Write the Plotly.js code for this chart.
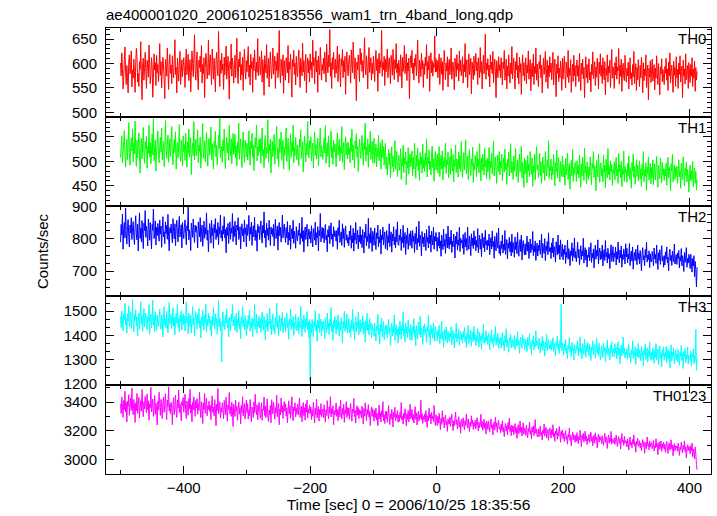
<!DOCTYPE html>
<html>
<head>
<meta charset="utf-8">
<script src="https://cdn.plot.ly/plotly-3.0.1.min.js"></script>
<style>html,body{margin:0;padding:0;background:#fff;}#chart{width:717px;height:516px;}</style>
</head>
<body>
<div id="chart"></div>
<script>
// Light curve: 1-s time bins (sec from 2006/10/25 18:35:56), starting at -500
const tStart = -500;
const binSize = 1;

const panelNames = ["TH0", "TH1", "TH2", "TH3", "TH0123"];
const chartTitle = "ae400001020_20061025183556_wam1_trn_4band_long.qdp";
const xTitle = "Time [sec] 0 = 2006/10/25 18:35:56";
const yTitle = "Counts/sec";

const th0 = [
601,575,622,590,548,566,612,634,583,557,596,571,540,605,618,579,593,626,552,587,
570,609,584,541,599,631,615,562,580,553,604,588,645,572,526,597,611,566,590,623,
584,549,607,593,572,638,601,559,578,612,596,531,569,620,587,602,555,617,581,598,
563,589,641,576,604,550,585,613,593,567,528,609,596,574,632,588,547,603,619,580,
597,559,616,583,571,606,649,578,592,540,611,586,564,599,625,557,581,608,573,594,
612,586,551,603,630,577,596,619,565,589,608,542,581,626,600,573,610,659,588,566,
599,624,571,546,607,592,615,583,637,560,598,579,612,530,590,621,604,569,585,648,
576,603,618,589,557,630,597,568,611,584,542,606,623,591,575,666,594,553,607,580,
621,586,599,547,613,577,602,636,568,592,615,583,527,604,589,640,574,611,596,560,
588,617,571,604,652,582,559,609,593,624,566,598,577,613,545,601,630,587,568,606,
583,609,635,572,597,556,619,590,604,541,612,585,628,596,567,603,582,651,575,600,
614,577,595,626,562,608,589,535,616,600,581,639,570,593,611,552,598,624,587,569,
601,632,578,594,615,549,605,586,622,571,597,668,583,560,609,592,575,618,539,606,
590,566,612,597,581,637,560,603,588,619,574,531,608,594,627,578,601,556,615,586,
573,604,628,589,551,611,596,575,642,583,606,565,598,619,540,593,612,581,607,562,
620,587,603,571,648,595,612,558,599,626,583,607,541,615,592,577,633,604,566,598,
586,611,579,624,597,562,640,605,581,617,593,670,574,602,549,612,588,623,596,571,
609,580,598,636,563,601,619,587,552,610,595,629,571,606,583,615,537,598,624,590,
575,603,617,592,560,628,599,581,644,607,569,612,590,524,603,587,618,596,563,631,
598,622,584,606,571,611,653,590,577,616,599,548,605,633,582,594,612,566,601,579,
615,591,563,604,627,586,610,543,598,621,580,606,592,668,574,603,587,615,555,609,
583,606,630,571,598,612,589,559,617,601,576,629,594,567,608,590,641,581,600,562,
607,589,574,618,596,550,613,584,603,637,579,598,620,565,602,585,611,528,596,616,
592,627,580,601,566,610,594,619,575,603,648,586,560,607,597,573,621,589,606,551,
600,578,613,595,639,569,604,587,616,543,598,622,581,606,574,601,592,657,583,610,
583,606,571,598,620,557,593,612,578,604,545,589,627,596,567,601,585,614,552,598,
609,577,594,632,568,590,603,581,546,611,596,573,618,588,600,564,626,584,607,575,
592,614,560,598,583,641,572,599,608,551,586,620,577,595,611,538,603,589,567,615,
576,598,621,585,603,557,612,590,571,633,582,604,548,596,617,579,593,660,568,601,
587,610,574,597,552,618,588,603,579,625,561,594,609,583,530,606,592,571,614,585,
598,571,612,584,556,603,590,627,566,581,609,548,595,574,618,586,560,601,579,635,
569,593,611,578,548,604,587,622,571,596,558,613,582,600,537,591,618,575,602,565,
586,612,559,597,581,626,568,590,608,544,583,601,573,619,557,594,580,632,566,599,
576,553,604,589,618,571,597,540,585,611,578,594,625,562,588,607,549,596,573,614,
582,601,567,593,623,556,588,609,574,532,599,580,616,563,591,571,605,587,545,611,
568,594,615,579,550,603,586,572,627,561,590,576,608,541,582,599,563,617,575,596,
553,588,607,574,596,563,621,580,545,601,578,609,569,592,530,585,614,571,598,560,
591,610,566,583,542,598,577,624,569,587,604,555,593,572,611,586,548,603,579,620,
574,597,559,612,585,567,604,536,590,576,618,562,595,581,607,551,588,629,570,593,
583,549,602,577,614,568,593,585,631,558,597,574,609,543,586,601,572,565,617,589,
562,590,575,603,548,586,612,569,581,556,598,573,625,559,584,600,545,592,567,608,
578,553,596,571,613,587,540,602,565,589,575,618,551,583,597,526,590,572,606,561,
585,609,564,577,598,546,591,570,616,582,557,600,574,536,593,579,610,563,588,571,
557,594,580,611,566,589,545,603,575,622,560,583,597,568,541,605,576,592,553,614,
571,588,549,601,578,616,562,584,595,530,607,574,589,558,620,567,583,596,549,602,
580,561,598,574,612,553,589,570,605,543,592,566,584
];

const th1 = [
508,531,552,497,519,540,563,511,488,527,545,503,534,579,516,492,529,548,521,566,
499,537,515,582,524,490,543,507,531,558,512,476,528,547,505,533,569,518,496,540,
525,551,486,530,516,574,509,538,495,521,556,513,587,501,527,544,480,519,535,562,
514,497,532,549,519,568,503,526,541,489,517,583,528,506,534,553,498,522,546,510,
536,571,512,493,529,545,518,560,484,523,539,507,531,575,515,500,543,526,491,552,
519,534,502,557,525,488,540,516,566,509,531,548,473,524,537,512,581,503,528,545,
511,528,564,497,533,520,549,486,515,538,577,506,523,542,499,530,559,517,490,535,
547,512,526,570,503,536,519,484,541,528,561,509,532,493,518,553,526,589,507,522,
530,498,544,521,566,510,485,532,549,517,538,502,573,526,511,546,495,529,557,514,
522,555,507,531,491,539,518,578,504,527,546,513,487,535,560,520,498,543,529,509,
537,503,524,562,515,492,541,526,557,508,533,481,519,548,527,574,501,530,512,545,
520,547,496,532,568,511,524,487,539,553,506,528,517,585,498,534,521,545,476,513,
541,509,530,555,494,522,538,571,505,527,489,546,518,532,560,502,525,543,484,529,
512,536,568,499,524,547,515,482,531,556,508,539,520,573,497,528,511,549,526,503,
533,517,491,545,528,564,506,521,540,478,519,552,530,499,536,513,581,524,507,542,
526,550,501,519,537,486,529,560,512,534,505,523,547,491,517,540,568,509,532,515,
504,531,548,517,573,496,525,538,510,552,488,520,535,562,507,529,494,543,519,536,
521,489,536,558,512,527,545,501,530,516,571,498,524,539,483,528,550,513,537,505,
539,514,527,497,548,520,566,503,533,518,487,542,525,556,509,531,479,516,545,522,
506,530,553,518,492,537,524,578,500,529,513,546,488,534,519,561,504,527,541,497,
523,547,496,518,535,489,527,509,553,501,516,538,484,521,544,507,530,492,515,537,
485,509,472,501,524,493,517,466,503,530,488,511,478,497,542,483,506,520,469,499,
512,481,497,526,463,505,491,533,477,508,495,519,452,500,486,528,474,503,515,489,
496,521,470,508,484,537,499,465,512,490,527,481,504,461,518,493,509,476,535,486,
502,479,517,491,546,468,508,495,523,483,500,472,513,531,487,505,459,498,520,482,
497,515,476,504,530,469,491,512,484,521,462,499,508,488,537,475,503,493,519,466,
488,509,473,526,495,480,514,458,502,490,533,477,505,496,468,519,485,511,479,540,
501,467,494,518,482,507,543,475,492,510,463,499,524,486,471,505,490,529,457,497,
483,512,497,469,520,488,504,476,536,493,460,507,481,515,495,472,526,489,502,465,
506,478,494,528,463,500,487,517,474,498,541,470,491,509,483,455,512,496,479,520,
472,499,486,515,461,492,507,478,525,483,496,453,504,488,519,470,491,536,476,500,
489,463,511,480,497,526,469,485,503,457,493,515,478,490,531,466,498,484,447,507,
475,502,488,456,512,481,494,468,520,486,473,507,449,491,479,515,462,497,530,483,
493,467,484,516,471,499,455,488,509,476,492,461,520,482,470,503,487,542,465,490,
481,505,462,489,473,514,486,450,497,479,523,466,491,508,475,458,500,484,469,511,
468,493,480,451,506,472,489,517,463,485,496,443,478,502,470,524,459,487,475,498,
486,459,501,474,492,466,512,481,447,495,470,508,483,461,527,476,490,454,499,472,
463,488,471,509,479,452,496,485,520,467,491,475,440,502,480,468,515,484,457,493,
497,470,485,458,513,477,492,446,504,481,466,526,473,489,462,501,478,494,451,483,
475,499,462,488,508,470,483,455,516,479,493,466,500,448,485,472,521,459,490,477,
482,457,496,470,511,463,487,474,445,498,480,515,467,490,453,478,503,469,492,460,
476,501,464,485,449,494,471,520,458,483,469,497,441,488,475,509,462,480,496,454,
488,467,503,452,479,495,462,484,510,470,447,492,476,465,506,481,456,498,472,485,
461,484,470,497,451,479,508,466,489,473,440,495,480,514,458,476,492,463,487,469,
490,455,477,503,468,481,445,496,474,462,509,478,450,486,471,499,458,483,466,437,
475,492,459,481,463,500,448,472,486,455,479,441,463
];

const th2 = [
790,845,812,877,768,829,851,803,896,822,784,838,860,807,775,843,819,866,798,831,
854,809,783,838,872,816,797,846,763,825,881,802,834,791,857,814,770,849,826,888,
805,839,821,778,862,833,796,851,812,769,845,827,893,801,818,856,781,836,810,848,
827,793,859,815,840,774,831,869,806,822,785,853,817,842,799,876,808,763,835,819,
846,811,788,863,824,800,847,779,832,858,814,791,837,870,806,823,844,772,851,815,
801,836,859,817,782,841,826,899,797,828,812,764,849,831,805,862,818,789,843,822,
839,814,772,853,829,806,866,791,824,843,777,818,855,802,835,814,881,796,827,760,
813,848,825,787,858,810,834,771,845,819,863,798,829,806,851,782,837,815,874,803,
826,793,841,815,869,803,829,757,836,811,848,786,822,853,799,834,818,879,792,840,
807,855,820,781,843,827,866,798,812,838,769,825,847,810,832,791,859,816,834,776,
845,811,829,873,794,836,815,852,780,823,841,806,867,795,828,813,762,845,820,839,
798,830,856,812,787,842,818,884,803,826,774,849,811,833,796,858,822,780,837,815,
832,807,845,778,823,861,801,819,840,765,828,851,809,836,790,817,874,803,829,846,
812,789,835,803,854,781,820,796,843,768,815,832,801,858,786,824,809,771,838,805,
794,827,810,849,783,818,802,867,792,826,759,813,837,798,820,845,777,810,831,800,
823,787,841,806,775,832,814,796,852,781,819,804,838,763,827,810,879,791,815,836,
802,834,788,819,845,797,812,760,829,806,841,785,823,850,799,815,776,838,807,826,
817,793,826,768,835,811,858,789,805,822,780,847,801,832,774,819,840,796,813,787,
806,779,824,797,842,771,810,788,833,762,818,796,851,784,803,827,769,812,791,838,
785,812,773,829,798,756,821,803,846,779,808,792,864,770,816,787,835,799,761,824,
811,780,834,795,767,819,801,843,776,806,788,829,753,812,798,837,781,805,822,770,
798,826,765,810,789,847,776,803,822,759,815,794,838,781,806,772,829,791,853,784,
780,812,795,831,764,806,788,842,773,799,820,752,811,786,834,768,797,816,779,825,
803,771,826,792,809,758,817,784,838,766,801,789,855,777,812,794,747,823,786,806,
775,818,797,764,829,790,805,772,841,786,812,759,824,799,781,836,768,808,793,820,
788,762,805,779,821,771,794,746,812,785,767,830,777,798,755,816,789,772,840,781,
769,806,783,827,758,793,776,815,790,741,808,784,822,765,797,780,836,761,802,788,
796,771,814,752,789,820,775,801,764,837,783,768,809,791,748,816,779,803,770,825,
782,808,763,795,774,832,757,790,811,768,799,745,818,786,773,805,760,827,781,794,
766,797,779,815,751,786,804,769,825,776,792,740,808,783,763,819,787,771,834,755,
781,749,793,770,812,756,784,765,826,752,779,798,738,787,771,805,760,791,747,815,
758,789,772,743,806,767,791,754,820,775,746,783,798,761,812,735,778,795,769,750,
785,751,774,809,762,790,739,771,800,757,783,766,823,748,779,760,794,733,770,787,
747,780,763,796,752,773,815,741,786,768,755,801,733,778,764,792,751,819,760,774,
772,739,788,757,803,744,776,762,728,791,769,750,812,755,781,736,797,764,745,783,
735,768,752,781,724,759,743,796,737,770,754,717,763,749,788,731,772,745,803,740,
761,729,755,790,742,768,720,751,779,736,763,747,802,725,758,773,734,766,713,750,
743,774,732,759,788,727,755,741,769,710,753,781,737,764,746,797,722,757,771,735,
762,738,781,716,750,767,733,795,744,758,725,771,739,754,708,763,782,730,748,776,
729,756,743,774,719,760,737,790,748,726,765,741,778,712,751,736,769,754,722,785,
744,771,726,753,738,786,717,749,762,731,775,706,745,758,733,768,741,720,781,737,
756,722,764,740,701,752,773,735,748,717,767,742,790,728,750,736,763,711,754,729,
730,761,745,716,772,738,752,724,781,743,705,757,734,766,721,748,779,732,745,712,
748,719,760,737,775,726,743,701,755,768,733,749,718,762,741,729,784,722,738,751,
721,756,739,764,710,745,731,770,716,748,735,699,758,727,744,773,712,739,725,752,
740,708,752,725,697,739,716,748,683,730,704,651,712
];

const th3 = [
1478,1432,1501,1456,1419,1487,1465,1532,1443,1472,1409,1490,1458,1521,1437,1475,1496,1428,1463,1548,
1451,1414,1485,1467,1506,1439,1477,1398,1460,1493,1425,1470,1539,1448,1482,1417,1456,1511,1435,1469,
1492,1446,1423,1478,1458,1527,1404,1466,1488,1431,1461,1545,1442,1479,1415,1497,1455,1420,1483,1450,
1436,1471,1509,1447,1426,1485,1462,1393,1476,1518,1441,1468,1430,1499,1453,1411,1474,1536,1445,1466,
1487,1427,1458,1514,1438,1476,1403,1463,1491,1449,1528,1432,1470,1416,1482,1457,1502,1422,1465,1489,
1444,1480,1418,1468,1537,1451,1475,1406,1492,1461,1435,1484,1410,1456,1519,1443,1472,1397,1460,1499,
1468,1426,1487,1449,1511,1433,1462,1389,1476,1441,1503,1457,1422,1483,1450,1529,1415,1466,1438,1491,
1452,1480,1419,1463,1396,1478,1440,1515,1458,1427,1489,1445,1470,1405,1461,1543,1434,1472,1418,1457,
1290,1466,1497,1436,1459,1424,1484,1451,1510,1430,1469,1393,1474,1448,1421,1486,1457,1527,1439,1462,
1477,1420,1455,1491,1412,1465,1441,1503,1428,1460,1386,1475,1449,1518,1435,1467,1423,1482,1453,1400,
1461,1428,1483,1444,1505,1417,1456,1433,1472,1394,1466,1439,1527,1425,1450,1488,1408,1458,1436,1479,
1430,1469,1412,1454,1497,1440,1421,1478,1451,1380,1463,1434,1490,1416,1458,1445,1512,1427,1466,1403,
1456,1488,1420,1443,1405,1474,1438,1533,1429,1460,1398,1482,1447,1418,1471,1439,1495,1411,1452,1436,
1473,1415,1450,1492,1431,1455,1384,1467,1442,1509,1423,1461,1437,1478,1400,1453,1426,1487,1446,1419,
1441,1476,1407,1459,1432,1520,1448,1395,1464,1427,1483,1452,1413,1469,1438,1498,1422,1457,1389,1466,
1212,1451,1409,1466,1428,1394,1457,1436,1503,1418,1447,1375,1462,1430,1489,1412,1440,1467,1398,1455,
1421,1459,1434,1386,1472,1443,1411,1492,1427,1450,1403,1468,1437,1515,1415,1446,1379,1461,1432,1478,
1448,1406,1463,1425,1484,1437,1397,1455,1419,1473,1442,1368,1458,1431,1500,1416,1452,1426,1487,1409,
1437,1470,1412,1445,1391,1462,1428,1508,1420,1454,1383,1441,1477,1413,1456,1433,1496,1402,1439,1465,
1414,1449,1430,1481,1405,1457,1436,1372,1460,1424,1491,1418,1446,1401,1470,1427,1452,1389,1444,1423,
1428,1396,1451,1412,1376,1439,1421,1487,1403,1430,1364,1447,1415,1471,1393,1425,1458,1382,1419,1440,
1405,1443,1389,1426,1467,1410,1432,1358,1421,1452,1398,1436,1410,1484,1379,1417,1444,1401,1426,1368,
1433,1402,1458,1415,1384,1440,1419,1496,1397,1427,1372,1451,1408,1435,1390,1463,1412,1428,1381,1446,
1418,1380,1437,1409,1469,1395,1424,1356,1441,1413,1386,1455,1420,1403,1478,1392,1431,1415,1362,1439,
1400,1448,1411,1425,1371,1434,1417,1482,1394,1422,1360,1443,1406,1429,1387,1452,1414,1376,1436,1405,
1412,1377,1423,1398,1441,1366,1407,1389,1459,1383,1415,1350,1403,1426,1378,1435,1395,1369,1418,1388,
1375,1410,1392,1436,1361,1399,1420,1383,1347,1408,1389,1450,1372,1404,1386,1427,1358,1397,1416,1381,
1404,1368,1415,1391,1432,1373,1396,1349,1410,1385,1441,1366,1400,1379,1421,1355,1393,1412,1374,1437,
1381,1405,1358,1394,1373,1428,1387,1352,1413,1376,1399,1342,1408,1383,1447,1367,1390,1371,1419,1379,
1396,1362,1410,1380,1341,1399,1374,1423,1366,1389,1351,1404,1378,1437,1359,1392,1370,1409,1345,1386,
1365,1393,1347,1381,1412,1359,1376,1336,1398,1370,1427,1352,1384,1364,1330,1391,1372,1405,1348,1379,
1382,1351,1374,1399,1340,1367,1388,1355,1415,1361,1379,1326,1371,1393,1357,1346,1403,1368,1385,1339,
1350,1384,1362,1333,1392,1357,1376,1407,1345,1369,1321,1381,1363,1398,1340,1372,1354,1419,1358,1377,
1371,1342,1389,1355,1327,1368,1351,1396,1338,1377,1360,1314,1373,1349,1404,1336,1365,1383,1343,1359,
1345,1378,1339,1360,1390,1333,1367,1348,1315,1374,1356,1396,1341,1363,1325,1380,1350,1528,1337,1369,
1352,1318,1364,1337,1382,1326,1349,1305,1360,1343,1390,1331,1355,1312,1370,1338,1347,1298,1361,1335,
1324,1359,1341,1378,1316,1350,1333,1394,1327,1345,1303,1366,1339,1321,1384,1346,1310,1357,1332,1371,
1348,1315,1362,1330,1296,1352,1338,1377,1320,1343,1363,1306,1340,1389,1325,1353,1316,1368,1334,1300,
1321,1357,1339,1308,1369,1332,1350,1290,1344,1326,1381,1317,1348,1335,1299,1360,1328,1374,1311,1343,
1345,1312,1366,1328,1351,1302,1338,1374,1320,1347,1283,1340,1359,1315,1336,1393,1323,1349,1306,1331,
1318,1346,1301,1333,1362,1309,1327,1288,1340,1321,1378,1304,1335,1316,1353,1280,1329,1345,1312,1367,
1306,1339,1322,1295,1356,1315,1332,1273,1341,1318,1363,1300,1328,1349,1290,1337,1311,1372,1319,1296,
1332,1301,1348,1316,1285,1339,1309,1366,1298,1325,1344,1279,1320,1357,1304,1329,1270,1340,1313,1352,
1297,1327,1310,1354,1288,1321,1343,1302,1335,1266,1316,1361,1293,1330,1312,1347,1282,1319,1338,1300,
1326,1290,1341,1307,1277,1330,1315,1358,1296,1322,1263,1334,1311,1346,1286,1320,1303,1352,1281,1317,
1301,1299,1336,1274,1322,1310,1345,1283,1318,1293,1425,1256,1305
];

const th0123 = [
3388,3321,3436,3365,3294,3412,3347,3475,3330,3399,3262,3405,3370,3451,3308,3381,3427,3343,3497,3356,
3312,3418,3379,3258,3395,3341,3460,3322,3386,3433,3289,3364,3410,3337,3487,3372,3299,3402,3353,3440,
3379,3327,3457,3346,3409,3274,3388,3361,3503,3332,3373,3421,3300,3368,3445,3315,3392,3352,3241,3406,
3345,3468,3384,3307,3419,3362,3285,3396,3435,3329,3377,3458,3350,3279,3414,3369,3506,3337,3390,3320,
3398,3356,3243,3383,3431,3313,3372,3449,3344,3293,3415,3359,3482,3327,3389,3353,3270,3405,3375,3432,
3330,3387,3455,3340,3286,3408,3363,3308,3426,3354,3490,3323,3381,3263,3399,3346,3437,3369,3301,3412,
3358,3424,3316,3389,3342,3468,3353,3291,3403,3372,3251,3396,3347,3459,3322,3381,3428,3305,3374,3349,
3407,3336,3376,3278,3390,3443,3328,3365,3303,3418,3355,3236,3385,3342,3494,3319,3369,3402,3290,3361,
3329,3395,3350,3285,3412,3358,3312,3434,3337,3267,3381,3349,3467,3319,3368,3300,3400,3343,3231,3385,
3352,3300,3415,3338,3369,3274,3346,3401,3317,3360,3249,3378,3327,3437,3304,3355,3389,3282,3339,3413,
3327,3389,3282,3342,3306,3418,3321,3265,3366,3340,3293,3401,3326,3454,3359,3313,3382,3276,3345,3398,
3358,3288,3325,3395,3273,3351,3343,3435,3306,3372,3292,3334,3423,3300,3265,3345,3311,3377,3257,3416,
3369,3318,3401,3337,3281,3362,3325,3448,3297,3356,3390,3243,3351,3312,3428,3329,3374,3286,3363,3404,
3336,3389,3302,3360,3255,3344,3409,3318,3374,3287,3352,3437,3325,3271,3366,3341,3395,3298,3357,3320,
3385,3311,3352,3429,3293,3340,3372,3264,3347,3396,3306,3361,3275,3388,3330,3414,3289,3353,3325,3378,
3318,3366,3279,3345,3302,3398,3324,3255,3357,3311,3420,3290,3338,3371,3268,3349,3313,3389,3296,3335,
3352,3290,3381,3319,3261,3346,3306,3410,3330,3283,3367,3322,3438,3297,3355,3318,3375,3243,3341,3309,
3327,3394,3301,3348,3272,3336,3369,3297,3414,3325,3284,3357,3312,3386,3259,3344,3320,3403,3293,3362,
3306,3359,3280,3338,3390,3315,3267,3352,3327,3426,3299,3343,3255,3331,3374,3309,3362,3285,3347,3317,
3340,3289,3372,3321,3247,3356,3303,3395,3328,3272,3349,3314,3383,3294,3336,3237,3325,3367,3301,3354,
3317,3268,3345,3290,3358,3275,3321,3236,3308,3379,3283,3326,3262,3341,3299,3403,3271,3312,3251,3334,
3285,3336,3259,3309,3377,3292,3244,3318,3281,3350,3302,3227,3330,3296,3364,3270,3315,3289,3341,3260,
3311,3266,3328,3290,3397,3276,3305,3248,3323,3286,3354,3301,3235,3319,3279,3342,3262,3299,3385,3283,
3296,3349,3273,3314,3255,3307,3368,3280,3325,3241,3298,3336,3267,3310,3288,3413,3277,3320,3252,3301,
3279,3318,3262,3341,3294,3225,3305,3270,3357,3289,3316,3249,3328,3283,3302,3265,3376,3291,3237,3312,
3280,3238,3301,3254,3322,3271,3209,3287,3246,3340,3262,3293,3221,3275,3310,3243,3268,3197,3284,3256,
3247,3296,3232,3274,3315,3251,3202,3269,3237,3286,3330,3245,3278,3214,3261,3299,3226,3263,3184,3281,
3266,3228,3291,3244,3208,3272,3239,3316,3253,3219,3283,3241,3195,3262,3230,3305,3246,3275,3211,3258,
3231,3274,3214,3256,3292,3238,3199,3261,3222,3248,3315,3225,3266,3205,3240,3281,3218,3253,3178,3269,
3252,3209,3270,3226,3194,3248,3283,3219,3243,3172,3237,3262,3207,3295,3228,3256,3190,3241,3275,3215,
3228,3186,3247,3205,3270,3193,3224,3160,3218,3252,3199,3236,3174,3259,3211,3289,3196,3230,3168,3241,
3195,3234,3173,3216,3251,3187,3223,3148,3209,3243,3181,3202,3268,3190,3227,3165,3214,3256,3178,3220,
3210,3170,3239,3186,3153,3218,3195,3262,3177,3204,3144,3227,3191,3236,3168,3201,3278,3183,3212,3161,
3176,3215,3158,3199,3233,3167,3191,3137,3206,3182,3248,3163,3197,3225,3152,3186,3210,3134,3194,3221,
3193,3150,3210,3171,3243,3159,3186,3128,3199,3175,3217,3142,3188,3164,3230,3181,3121,3197,3168,3208,
3146,3183,3127,3170,3202,3141,3164,3108,3177,3155,3219,3133,3168,3096,3159,3192,3138,3175,3150,3121,
3169,3128,3188,3145,3112,3161,3137,3205,3150,3090,3172,3140,3184,3123,3158,3199,3131,3164,3106,3147,
3133,3176,3119,3152,3191,3128,3160,3098,3143,3171,3115,3187,3137,3155,3082,3149,3178,3122,3163,3139,
3154,3112,3167,3130,3101,3146,3183,3120,3159,3134,3078,3141,3172,3115,3151,3126,3196,3108,3143,3129,
3118,3152,3107,3141,3170,3124,3091,3139,3160,3113,3146,3074,3128,3181,3121,3136,3099,3163,3115,3132,
3130,3088,3145,3112,3067,3124,3158,3101,3120,3083,3141,3109,3173,3095,3118,3052,3127,3106,3149,3092,
3099,3132,3083,3116,3064,3108,3140,3091,3125,3045,3103,3121,3076,3158,3097,3112,3069,3131,3088,3114,
3118,3076,3105,3134,3061,3098,3082,3146,3090,3113,3035,3101,3124,3072,3095,3130,3058,3109,3083,3122,
3072,3108,3051,3096,3127,3083,3044,3101,3117,3066,3093,3138,3075,3102,3028,3089,3112,3061,3097,3080,
3095,3059,3114,3075,3030,3087,3068,3122,3081,3047,3099,3071,3131,3056,3090,3012,3078,3104,3063,3093,
3084,3041,3097,3062,3115,3020,3075,3054,3006,3089,3035,2968,2930
];

const seriesValues = [th0, th1, th2, th3, th0123];
const seriesColors = ["#ff0000", "#00ff00", "#0000ff", "#00ffff", "#ff00ff"];
const yRanges = [[490, 673], [408, 590], [624, 901], [1196, 1564], [2901, 3520]];
const yDticks = [50, 50, 100, 100, 200];
const yMinor = [10, 10, 25, 100/3, 100];

const FONT = "Liberation Sans, Arial, Helvetica, sans-serif";
const nPanels = 5;

const traces = [];
const layout = {
  width: 717, height: 516,
  margin: {l: 106, r: 6, t: 28, b: 42, pad: 0},
  paper_bgcolor: "#ffffff", plot_bgcolor: "#ffffff",
  showlegend: false,
  font: {family: FONT, size: 15, color: "#000"},
  title: {text: chartTitle, xref: "paper", x: 0, xanchor: "left",
          yref: "container", y: 1 - 15/516, yanchor: "middle",
          font: {family: FONT, size: 15, color: "#000"}},
  annotations: []
};

for (let p = 0; p < nPanels; p++) {
  const k = nPanels - 1 - p;
  const ax = k === 0 ? "" : String(k + 1);
  const vals = seriesValues[p];
  const times = vals.map((_, i) => tStart + i * binSize);
  traces.push({
    type: "scatter", mode: "lines",
    x: times, y: vals,
    xaxis: "x" + ax, yaxis: "y" + ax,
    line: {color: seriesColors[p], width: 1, shape: "linear", simplify: false},
    hoverinfo: "skip"
  });
  const xa = {
    domain: [0, 1], anchor: "y" + ax,
    range: [-523, 434],
    showgrid: false, zeroline: false,
    showline: true, mirror: "ticks", linecolor: "#000", linewidth: 1,
    ticks: "inside", ticklen: 8, tickwidth: 1, tickcolor: "#000",
    dtick: 200, tick0: 0,
    minor: {dtick: 100, ticklen: 4, ticks: "inside", tickcolor: "#000", showgrid: false},
    showticklabels: k === 0,
    tickfont: {family: FONT, size: 15, color: "#000"}
  };
  if (k !== 0) xa.matches = "x";
  if (k === 0) {
    xa.title = {text: xTitle, font: {family: FONT, size: 15.5, color: "#000"}, standoff: 4};
  }
  layout["xaxis" + ax] = xa;
  layout["yaxis" + ax] = {
    domain: [k / nPanels, (k + 1) / nPanels], anchor: "x" + ax,
    range: yRanges[p],
    showgrid: false, zeroline: false,
    showline: true, mirror: "ticks", linecolor: "#000", linewidth: 1,
    ticks: "inside", ticklen: 8, tickwidth: 1, tickcolor: "#000",
    dtick: yDticks[p], tick0: 0,
    minor: {dtick: yMinor[p], tick0: 0, ticklen: 4, ticks: "inside", tickcolor: "#000", showgrid: false},
    tickfont: {family: FONT, size: 15, color: "#000"},
    ticklabelstandoff: 5
  };
  layout.annotations.push({
    text: panelNames[p], showarrow: false,
    xref: "paper", x: 1, xanchor: "right", xshift: -3,
    yref: "y" + ax + " domain", y: 1, yanchor: "top", yshift: 0,
    font: {family: FONT, size: 15, color: "#000"}
  });
}

layout.annotations.push({
  text: yTitle, showarrow: false, textangle: -90,
  xref: "paper", x: (42 - 106) / 605, xanchor: "center",
  yref: "paper", y: 0.5, yanchor: "middle",
  font: {family: FONT, size: 15, color: "#000"}
});

Plotly.newPlot("chart", traces, layout, {staticPlot: true, displayModeBar: false});
</script>
</body>
</html>
